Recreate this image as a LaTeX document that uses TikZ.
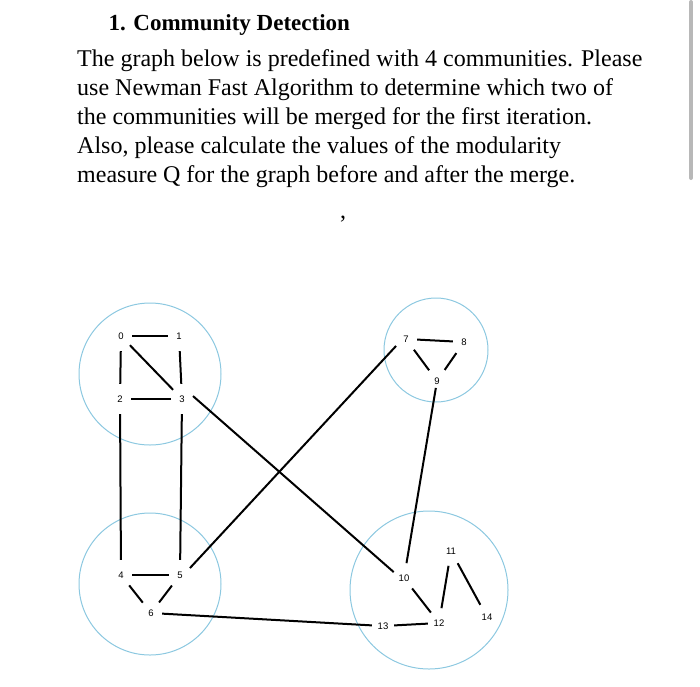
\documentclass[tikz,border=0pt]{standalone}
\usepackage{fontspec}
\setmainfont{Liberation Serif}
\setsansfont{Liberation Sans}
\usepackage{tikz}
\usetikzlibrary{shapes.geometric}
\definecolor{CommBlue}{HTML}{8CC8E0}
\definecolor{BarGray}{HTML}{B8B8B8}
\tikzset{
  vtx/.style={ellipse, inner sep=0pt, minimum width=22pt, minimum height=30pt,
              font=\sffamily\fontsize{9.5}{10}\selectfont},
  comm/.style={draw=CommBlue, line width=1pt},
  link/.style={line width=2pt, black}
}
\begin{document}
\begin{tikzpicture}[x=1pt, y=-1pt]
  \useasboundingbox (0,0) rectangle (700,686);
  % question text
  \node[anchor=base west, font=\bfseries\fontsize{23}{28}\selectfont] (title) at (105,30) {1. Community Detection};
  \node[anchor=base west, align=left, inner sep=0pt, font=\fontsize{24}{29}\selectfont] (text) at (77,182)
    {The graph below is predefined with 4 communities. Please\\
     use Newman Fast Algorithm to determine which two of\\
     the communities will be merged for the first iteration.\\
     Also, please calculate the values of the modularity\\
     measure Q for the graph before and after the merge.};
  \node[anchor=base, font=\fontsize{24}{29}\selectfont] (comma) at (343,218) {,};
  \draw[BarGray, line width=4pt, line cap=round] (691,2) -- (691,178);
  % communities
  \draw[comm] (150,374) circle (71);
  \draw[comm] (436,350) circle (52);
  \draw[comm] (150,584) circle (71);
  \draw[comm] (429,590) circle (79);
  % vertices
  \node[vtx] (n0) at (121,336) {0};
  \node[vtx] (n1) at (179,336) {1};
  \node[vtx] (n2) at (120,399) {2};
  \node[vtx] (n3) at (182,399) {3};
  \node[vtx] (n4) at (121,575) {4};
  \node[vtx] (n5) at (180,575) {5};
  \node[vtx] (n6) at (151,613) {6};
  \node[vtx] (n7) at (406,339) {7};
  \node[vtx] (n8) at (464,342) {8};
  \node[vtx] (n9) at (437,381) {9};
  \node[vtx] (n10) at (404,578) {10};
  \node[vtx] (n11) at (451,551) {11};
  \node[vtx] (n12) at (439,623) {12};
  \node[vtx] (n13) at (383,626) {13};
  \node[vtx] (n14) at (487,617) {14};
  % edges
  \draw[link] (n0) -- (n1);
  \draw[link] (n0) -- (n2);
  \draw[link] (n0) -- (n3);
  \draw[link] (n1) -- (n3);
  \draw[link] (n2) -- (n3);
  \draw[link] (n2) -- (n4);
  \draw[link] (n3) -- (n5);
  \draw[link] (n3.15) -- (n10.150);
  \draw[link] (n4) -- (n5);
  \draw[link] (n4) -- (n6);
  \draw[link] (n5) -- (n6);
  \draw[link] (n5.35) -- (n7.215);
  \draw[link] (n6) -- (n13);
  \draw[link] (n7) -- (n8);
  \draw[link] (n7) -- (n9);
  \draw[link] (n8) -- (n9);
  \draw[link, shorten <=7pt] (n9.center) -- (n10);
  \draw[link] (n10) -- (n12);
  \draw[link] (n11) -- (n12);
  \draw[link] (n11) -- (n14);
  \draw[link] (n12) -- (n13);
\end{tikzpicture}
\end{document}
